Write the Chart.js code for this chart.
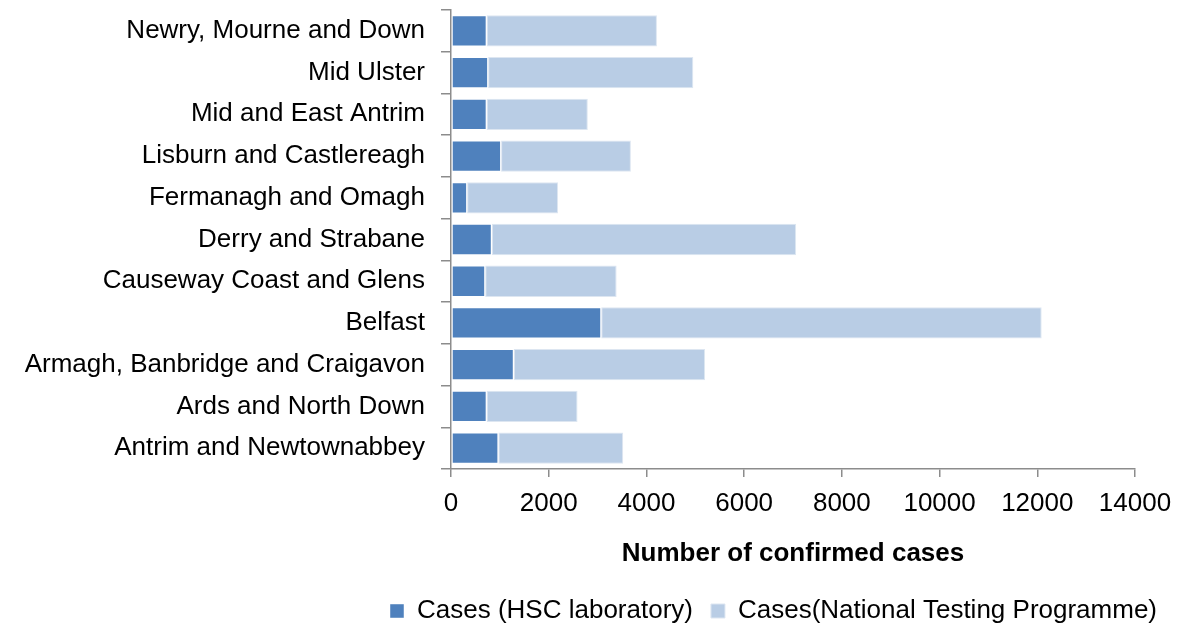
<!DOCTYPE html>
<html>
<head>
<meta charset="utf-8">
<script src="https://cdn.jsdelivr.net/npm/chart.js@4"></script>
<style>
  html, body { margin: 0; padding: 0; background: #fff; }
  #wrap { width: 1184px; height: 626px; position: relative; }
</style>
</head>
<body>
<div id="wrap"><canvas id="casesChart"></canvas></div>
<script>
const areas = [
  "Newry, Mourne and Down",
  "Mid Ulster",
  "Mid and East Antrim",
  "Lisburn and Castlereagh",
  "Fermanagh and Omagh",
  "Derry and Strabane",
  "Causeway Coast and Glens",
  "Belfast",
  "Armagh, Banbridge and Craigavon",
  "Ards and North Down",
  "Antrim and Newtownabbey"
];
const hscCases = [730, 760, 730, 1025, 330, 835, 700, 3075, 1285, 730, 970];
const ntpCases = [3485, 4200, 2070, 2657, 1860, 6230, 2690, 9015, 3915, 1860, 2555];
const xTicks = [0, 2000, 4000, 6000, 8000, 10000, 12000, 14000];

const axisGrey = "#8c8c8c";
const fontFamily = "'Liberation Sans', Arial, sans-serif";

// shift the legend so it sits under the plot like the original
const legendShift = {
  id: "legendShift",
  afterLayout(chart) {
    const lg = chart.legend;
    if (!lg) return;
    lg.left += 206;
    lg.right += 206;
    lg.top += 8;
    lg.bottom += 8;
  }
};

const ctx = document.getElementById("casesChart");

new Chart(ctx, {
  type: "bar",
  data: {
    labels: areas,
    datasets: [
      {
        label: "Cases (HSC laboratory)",
        data: hscCases,
        backgroundColor: "#4F81BD",
        borderColor: "rgba(255,255,255,0.45)",
        borderWidth: 1,
        borderSkipped: false,
      },
      {
        label: "Cases(National Testing Programme)",
        data: ntpCases,
        backgroundColor: "#B9CDE5",
        borderColor: "#dde6f1",
        borderWidth: 1,
        borderSkipped: false,
      },
    ],
  },
  options: {
    indexAxis: "y",
    responsive: true,
    maintainAspectRatio: false,
    animation: false,
    datasets: {
      bar: { categoryPercentage: 1, barPercentage: 0.75 },
    },
    layout: {
      padding: { top: 10, right: 49, left: 0, bottom: 0 },
    },
    scales: {
      x: {
        stacked: true,
        min: 0,
        max: 14000,
        afterBuildTicks: (scale) => {
          scale.ticks = xTicks.map((v) => ({ value: v }));
        },
        afterFit: (scale) => {
          scale.height = 103;
          scale.paddingLeft = 0;
          scale.paddingRight = 0;
        },
        grid: {
          drawOnChartArea: false,
          drawTicks: true,
          tickLength: 8,
          color: axisGrey,
          lineWidth: 1.5,
        },
        border: { color: axisGrey, width: 1.5 },
        ticks: {
          padding: 11,
          color: "#000",
          font: { family: fontFamily, size: 26 },
          callback: (v) => String(v),
        },
        title: {
          display: true,
          text: "Number of confirmed cases",
          color: "#000",
          padding: { top: 0, bottom: 3 },
          font: { family: fontFamily, size: 26, weight: "bold" },
        },
      },
      y: {
        stacked: true,
        afterFit: (scale) => {
          scale.width = 451;
          scale.paddingTop = 0;
          scale.paddingBottom = 0;
        },
        grid: {
          offset: true,
          drawOnChartArea: false,
          drawTicks: true,
          tickLength: 10,
          color: axisGrey,
          lineWidth: 1.5,
        },
        border: { color: axisGrey, width: 1.5 },
        ticks: {
          padding: 16,
          color: "#000",
          autoSkip: false,
          font: { family: fontFamily, size: 26 },
        },
      },
    },
    plugins: {
      legend: {
        position: "bottom",
        labels: {
          boxWidth: 14,
          boxHeight: 14,
          padding: 18,
          color: "#000",
          font: { family: fontFamily, size: 26 },
        },
      },
      tooltip: { enabled: false },
    },
  },
  plugins: [legendShift],
});
</script>
</body>
</html>
